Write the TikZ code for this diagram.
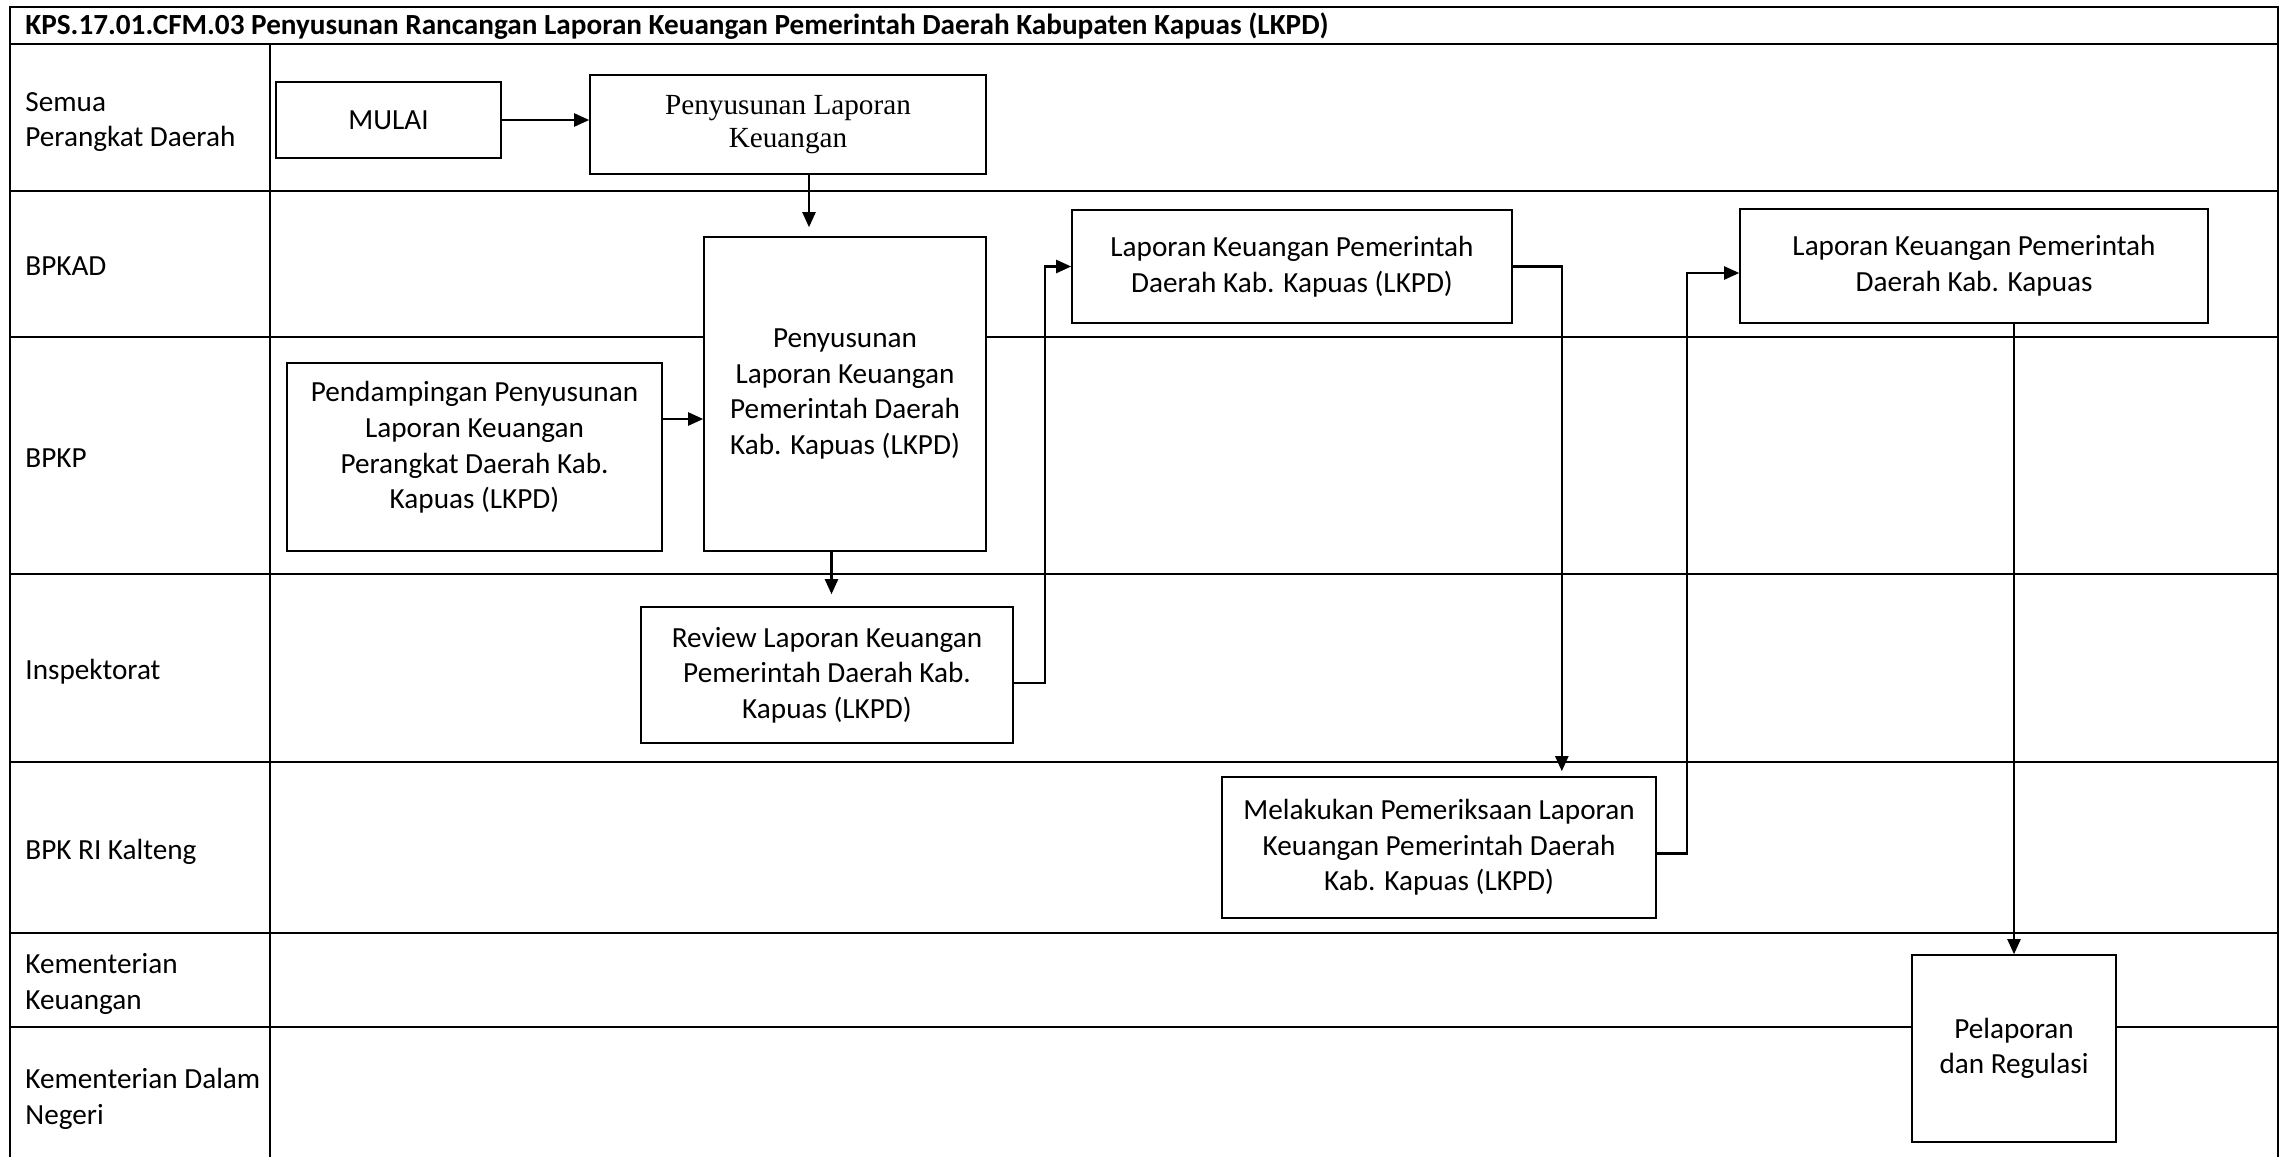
\documentclass[tikz,border=0pt]{standalone}
\usepackage{fontspec}
\setmainfont{Carlito}
\newfontfamily\timesf{Liberation Serif}
\usetikzlibrary{arrows.meta,calc}
\begin{document}
\begin{tikzpicture}[x=0.5pt,y=-0.5pt,
  lane/.style={line width=1.1pt},
  box/.style={draw, line width=0.8pt, fill=white, inner sep=0pt, align=center, font=\fontsize{14.6pt}{17.8pt}\selectfont},
  lbl/.style={anchor=west, inner sep=0pt, align=left, font=\fontsize{14.6pt}{17.8pt}\selectfont},
  arr/.style={line width=1.1pt, -{Triangle[length=7.5pt,width=6.5pt]}},
]
\useasboundingbox (0,0) rectangle (2289,1157);
% frame and lanes
\draw[lane] (10,1157) -- (10,7) -- (2278,7) -- (2278,1157);
\foreach \yy in {44,191,337,574,762,933,1027} \draw[lane] (10,\yy) -- (2278,\yy);
\draw[lane] (270,44) -- (270,1157);
% title
\node[lbl, font=\fontsize{14.6pt}{17.8pt}\selectfont\bfseries] (title) at (25,26) {KPS.17.01.CFM.03 Penyusunan Rancangan Laporan Keuangan Pemerintah Daerah Kabupaten Kapuas (LKPD)};
% lane labels
\node[lbl] (l1) at (25,122) {Semua\\Perangkat Daerah};
\node[lbl] (l2) at (25,266) {BPKAD};
\node[lbl] (l3) at (25,458) {BPKP};
\node[lbl] (l4) at (25,672) {Inspektorat};
\node[lbl] (l5) at (25,852) {BPK RI Kalteng};
\node[lbl] (l6) at (25,984) {Kementerian\\Keuangan};
\node[lbl] (l7) at (25,1099) {Kementerian Dalam\\Negeri};
% boxes
\node[box, minimum width=112.5pt, minimum height=38pt] (mulai) at (388.5,120) {MULAI};
\node[box, minimum width=198pt, minimum height=49.5pt, font=\fontsize{14.6pt}{16.8pt}\timesf] (plk) at (788,124.5) {Penyusunan Laporan\\Keuangan};
\node[box, minimum width=141pt, minimum height=157pt] (big) at (845,394) {Penyusunan\\Laporan Keuangan\\Pemerintah Daerah\\Kab. Kapuas (LKPD)};
\node[box, minimum width=187.5pt, minimum height=94pt] (pd) at (474.5,457) {Pendampingan Penyusunan\\Laporan Keuangan\\Perangkat Daerah Kab.\\Kapuas (LKPD)\\[-6pt]};
\node[box, minimum width=186pt, minimum height=68pt] (rev) at (827,675) {Review Laporan Keuangan\\Pemerintah Daerah Kab.\\Kapuas (LKPD)};
\node[box, minimum width=220pt, minimum height=56.5pt] (b1) at (1292,266.5) {Laporan Keuangan Pemerintah\\Daerah Kab. Kapuas (LKPD)};
\node[box, minimum width=217pt, minimum height=70.5pt] (mel) at (1439,847.5) {Melakukan Pemeriksaan Laporan\\Keuangan Pemerintah Daerah\\Kab. Kapuas (LKPD)};
\node[box, minimum width=234pt, minimum height=57pt] (b2) at (1974,266) {Laporan Keuangan Pemerintah\\Daerah Kab. Kapuas};
\node[box, minimum width=102pt, minimum height=93.5pt] (pel) at (2014,1048.5) {Pelaporan\\dan Regulasi};
% connectors
\draw[arr] (mulai.east) -- (mulai.east -| plk.west);
\coordinate (c1) at ($(plk.south)+(21,0)$);
\draw[arr] (c1) -- ($(c1 |- big.north)+(0,-9)$);
\coordinate (c2) at ($(pd.east)+(0,-38)$);
\draw[arr] (c2) -- (c2 -| big.west);
\coordinate (c3) at ($(big.south)+(-13.5,0)$);
\draw[arr] (c3) -- ($(c3 |- rev.north)+(0,-12)$);
\coordinate (c4) at ($(rev.east)+(0,8)$);
\draw[arr] (c4) -- ++(31,0) |- (b1.west);
\draw[arr] (b1.east) -| ($(mel.north east)+(-95,-5)$);
\coordinate (c5) at ($(mel.east)+(0,6)$);
\draw[arr] (c5) -- ++(30,0) |- ($(b2.west)+(0,7)$);
\draw[arr] (b2.south -| pel.north) -- (pel.north);
\end{tikzpicture}
\end{document}
